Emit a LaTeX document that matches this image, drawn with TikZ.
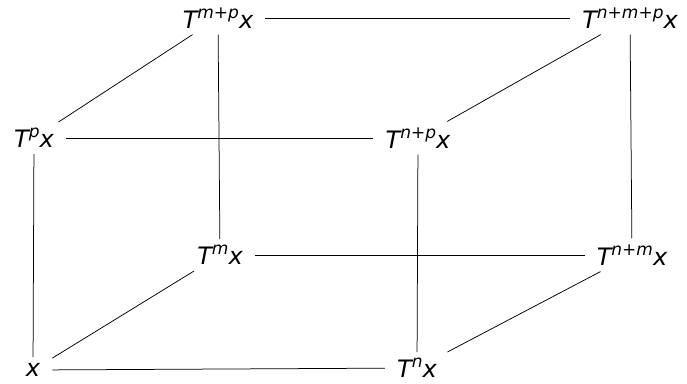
\documentclass[tikz,border=0pt]{standalone}
\usepackage{fontspec}
\setmainfont{DejaVu Sans}
\usepackage{tikz}
\newcommand\upidx[1]{\raisebox{0.42em}{\fontsize{17}{17}\selectfont #1}}

\begin{document}
\begin{tikzpicture}[x=1pt, y=-1pt,
			obj/.style={font=\fontsize{24}{26}\selectfont\itshape, inner xsep=12pt, inner ysep=6pt},
			edge/.style={line width=0.75pt}]
			
			\useasboundingbox (0,0) rectangle (687,383);
			
			\node[obj] (x) at (33,370) {x};
			\node[obj] (tn) at (417,368) {T\upidx{n}x};
			\node[obj] (tm) at (220,255) {T\upidx{m}x};
			\node[obj] (tnm) at (632,255) {T\upidx{n+m}x};
			\node[obj] (tp) at (34,138) {T\upidx{p}x};
			\node[obj] (tnp) at (418,138) {T\upidx{n+p}x};
			\node[obj] (tmp) at (218,18) {T\upidx{m+p}x};
			\node[obj] (tnmp) at (630,18) {T\upidx{n+m+p}x};
			
			% bottom face
			\draw[edge] (x) -- (tn);
			\draw[edge] (x) -- (tm);
			\draw[edge] (tm) -- (tnm);
			\draw[edge] (tn) -- (tnm);
			% top face
			\draw[edge] (tp) -- (tnp);
			\draw[edge] (tp) -- (tmp);
			\draw[edge] (tmp) -- (tnmp);
			\draw[edge] (tnp) -- (tnmp);
			% verticals
			\draw[edge] (x) -- (tp);
			\draw[edge] (tn) -- (tnp);
			\draw[edge] (tm) -- (tmp);
			\draw[edge] (tnm) -- (tnmp);
		\end{tikzpicture}
\end{document}
